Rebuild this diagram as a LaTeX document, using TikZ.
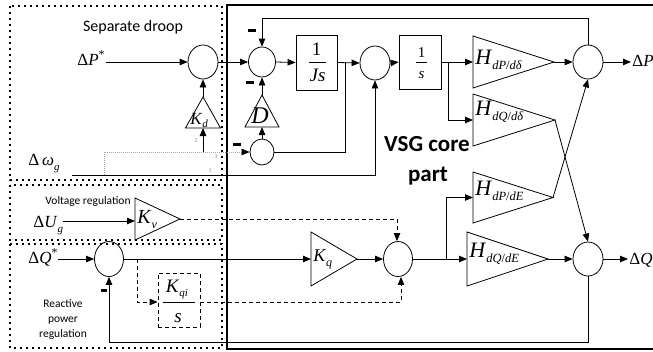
\documentclass[tikz,border=0pt]{standalone}
\usepackage{fontspec}
\setmainfont{Liberation Serif}
\newfontfamily\calfont{Carlito}
\usetikzlibrary{shapes.geometric,arrows.meta}
\newcommand{\rtri}[5]{%
  \draw (#2,#3) -- (#5,{(#3+#4)/2}) -- (#2,#4) -- cycle;
  \coordinate (#1-in) at (#2,{(#3+#4)/2});
  \coordinate (#1-out) at (#5,{(#3+#4)/2});}
\newcommand{\utri}[5]{%
  \draw ({#2-#5},#4) -- (#2,#3) -- ({#2+#5},#4) -- cycle;
  \coordinate (#1-top) at (#2,#3);
  \coordinate (#1-bot) at (#2,#4);}
\newcommand{\hlab}[2]{{\fontsize{22}{22}\selectfont\textit{H}}\raisebox{-5pt}{\fontsize{12.5}{12.5}\selectfont\textit{#1}/\textit{#2}}}
\begin{document}
\begin{tikzpicture}[x=1pt,y=-1pt,line width=0.8pt,
  arr/.style={-{Triangle[length=8pt,width=6.5pt]}},
  sumc/.style={draw,ellipse,minimum width=30pt,minimum height=34pt,inner sep=0pt},
  blk/.style={draw,rectangle,inner sep=0pt},
  dotbox/.style={line width=2pt,dash pattern=on 2pt off 4pt},
  fine/.style={gray!70,line width=0.7pt,dash pattern=on 1pt off 1pt},
  dsh/.style={dash pattern=on 4pt off 3pt},
  lab/.style={font=\fontsize{17}{17}\selectfont,inner sep=0pt},
  sans/.style={font=\calfont\fontsize{11.5}{15}\selectfont,inner sep=0pt},
  tinyl/.style={font=\fontsize{6}{6}\selectfont,text=gray,inner sep=0pt},
  fr/.style={inner sep=0pt,anchor=base}]
\useasboundingbox (0,0) rectangle (653,351);
% frames
\draw[line width=1.8pt] (653,5) -- (227,5) -- (227,349) -- (653,349);
\draw[dotbox] (10,6) rectangle (222,180);
\draw[dotbox] (10,185) rectangle (222,240);
\draw[dotbox] (10,244) rectangle (222,348);
% texts
\node[font=\calfont\fontsize{16}{16}\selectfont,inner sep=0pt] at (133,27) {Separate droop};
\node[sans] at (88,201) {Voltage regulation};
\node[sans,align=center] at (63,320) {Reactive\\power\\regulation};
\node[font=\calfont\bfseries\fontsize{23}{23}\selectfont,inner sep=0pt,anchor=base] at (427,151) {VSG core};
\node[font=\calfont\bfseries\fontsize{23}{23}\selectfont,inner sep=0pt,anchor=base] at (428,181) {part};
% input labels
\node[lab,anchor=base west] (dPs) at (77,65) {Δ\textit{P}\textsuperscript{*}};
\node[lab,anchor=base west] (dwg) at (28,165) {Δ\,\textit{ω}\raisebox{-5pt}{\fontsize{11}{11}\selectfont\textit{g}}};
\node[lab,anchor=base west] (dUg) at (33,227) {Δ\textit{U}\raisebox{-5pt}{\fontsize{11}{11}\selectfont\textit{g}}};
\node[lab,anchor=base west] (dQs) at (28,263) {Δ\textit{Q}\textsuperscript{*}};
\node[lab,anchor=base west] (dPo) at (632,66) {Δ\textit{P}};
\node[lab,anchor=base west] (dQo) at (629,264) {Δ\textit{Q}};
% sums
\node[sumc] (s1) at (203,62) {};
\node[sumc,minimum width=27pt,minimum height=30pt] (s2) at (262,62) {};
\node[sumc,minimum width=24pt,minimum height=26pt] (s0) at (262,152) {};
\node[sumc] (s3) at (375,63) {};
\node[sumc] (sP) at (588,62) {};
\node[sumc] (sQ) at (588,259) {};
\node[sumc,minimum width=29pt,minimum height=35pt] (sq0) at (109,259) {};
\node[sumc,minimum width=29pt,minimum height=35pt] (sQs) at (398,259) {};
% boxes
\node[blk,minimum width=41pt,minimum height=55pt] (Js) at (316.5,62.5) {};
\node[fr,font=\fontsize{19}{19}\selectfont] at (316.5,55) {1};
\draw[line width=0.7pt] (309,62) -- (326,62);
\node[fr,font=\fontsize{19}{19}\selectfont] at (317.5,81) {\textit{Js}};
\node[blk,minimum width=42pt,minimum height=54pt] (S1) at (420,62) {};
\node[fr,font=\fontsize{15}{15}\selectfont] at (421.5,57) {1};
\draw[line width=0.7pt] (416,62.5) -- (427,62.5);
\node[fr,font=\fontsize{15}{15}\selectfont] at (421.5,78) {\textit{s}};
\node[blk,dsh,minimum width=42pt,minimum height=54pt] (Kqi) at (179,300) {};
\node[fr] at (177,292) {{\fontsize{19}{19}\selectfont\textit{K}}\raisebox{-4pt}{\fontsize{11}{11}\selectfont\textit{qi}}};
\draw[line width=0.7pt] (163,302) -- (195,302);
\node[fr,font=\fontsize{19}{19}\selectfont] at (178,322) {\textit{s}};
% triangles
\rtri{HPd}{473}{36}{88}{554}
\rtri{HQd}{473}{94}{146}{555}
\rtri{HPE}{473}{172}{223}{553}
\rtri{HQE}{467}{232}{286}{548}
\rtri{Kv}{135}{198}{240}{180}
\rtri{Kq}{311}{232}{286}{357}
\utri{Kd}{203}{97}{128}{17.5}
\utri{D}{262}{95}{127}{17}
\node[inner sep=0pt,anchor=base west] at (475,64) {\hlab{dP}{dδ}};
\node[inner sep=0pt,anchor=base west] at (475,115) {\hlab{dQ}{dδ}};
\node[inner sep=0pt,anchor=base west] at (475,195) {\hlab{dP}{dE}};
\node[inner sep=0pt,anchor=base west] at (469,257) {\hlab{dQ}{dE}};
\node[inner sep=0pt,anchor=base west] at (190,124) {{\fontsize{17}{17}\selectfont\textit{K}}\raisebox{-3pt}{\fontsize{11}{11}\selectfont\textit{d}}};
\node[inner sep=0pt,anchor=base] at (260,123) {\fontsize{24}{24}\selectfont\textit{D}};
\node[inner sep=0pt,anchor=base west] at (137,223) {{\fontsize{20}{20}\selectfont\textit{K}}\raisebox{-5pt}{\fontsize{12}{12}\selectfont\textit{v}}};
\node[inner sep=0pt,anchor=base west] at (313,261) {{\fontsize{18}{18}\selectfont\textit{K}}\raisebox{-5pt}{\fontsize{12}{12}\selectfont\textit{q}}};
% tiny port labels
\node[tinyl] at (196,141) {2};
\node[tinyl] at (216,157) {3};
\node[tinyl] at (210,171) {1};
% minus signs
\fill (248,28.5) rectangle (256,31.5);
\fill (246,80.5) rectangle (254,83.5);
\fill (233,142.5) rectangle (241,145.5);
\fill (101,288.5) rectangle (107,291.5);
% coordinates
\coordinate (wg) at (72,175);
\coordinate (wgd) at (104,175);
\coordinate (kdin) at (203,152);
\coordinate (sp1) at (345,62);
\coordinate (sp2) at (448,62);
\coordinate (sp3) at (137,259);
\coordinate (sp4) at (446,259);
% connectors top
\draw[arr] (dPs.east |- s1.west) -- (s1.west);
\draw[arr] (s1.east) -- (s2.west);
\draw[arr] (Kd-top) -- (s1.south);
\draw[arr] (kdin) -- (Kd-bot);
\draw[arr] (D-top) -- (s2.south);
\draw[arr] (s0.north) -- (D-bot);
\draw[arr] (s2.east) -- (Js.west);
\draw[arr] (Js.east) -- (s3.west);
\draw (sp1) |- (s0.east);
\draw[arr] (s3.east) -- (S1.west);
\draw[arr] (S1.east) -- (HPd-in);
\draw[arr] (sp2) |- (HQd-in);
\draw[arr] (HPd-out) -- (sP.west);
\draw[arr] (sP.east) -- ([xshift=-1pt]dPo.west |- sP.east);
\draw[arr] (sP.north) -- (sP.north |- 0,18) -- (s2.north |- 0,18) -- (s2.north);
\draw[arr] (wg) -| (s3.south);
\draw[fine,-{Triangle[length=8pt,width=6.5pt,black]}] (wgd) |- (s0.west);
% cross
\draw[arr] (HQd-out) -- (sQ.north);
\draw[arr] (HPE-out) -- (sP.south);
% bottom
\draw[arr] (dUg.east |- 0,221) -- (Kv-in |- 0,221);
\draw[dsh,arr] (Kv-out) -| ([xshift=-1pt]sQs.north);
\draw[arr] (dQs.east |- sq0.west) -- (sq0.west);
\draw[arr] (sq0.east) -- (Kq-in);
\draw[dsh,arr] (sp3) |- (Kqi.west |- 0,302);
\draw[dsh,arr] (Kqi.east |- 0,302) -| ([xshift=3pt]sQs.south);
\draw[arr] (Kq-out) -- (sQs.west);
\draw[arr] (sQs.east) -- (HQE-in);
\draw[arr] (sp4) |- (HPE-in);
\draw[arr] (HQE-out) -- (sQ.west);
\draw[arr] (sQ.east) -- ([xshift=-1pt]dQo.west |- sQ.east);
\draw[arr] (sQ.south) -- (sQ.south |- 0,342) -| (sq0.south);
\end{tikzpicture}
\end{document}
